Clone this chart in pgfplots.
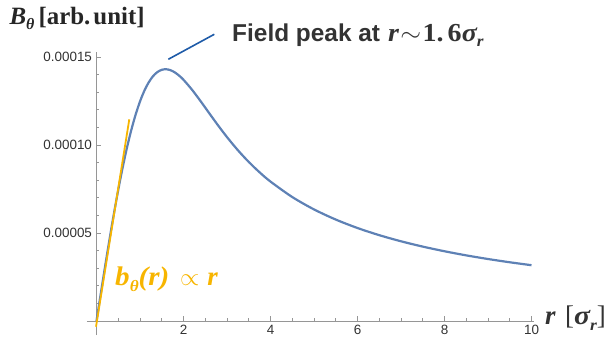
\documentclass[border=0pt]{standalone}
\usepackage[no-math]{fontspec}
\usepackage{pgfplots}
\pgfplotsset{compat=1.18}
\setmainfont{Liberation Sans}
\newfontfamily\tms{Liberation Serif}
\newcommand\bvar[1]{{\tms\bfseries\itshape #1}}
\newcommand\bsub[1]{\raisebox{-0.2em}{\fontsize{16}{16}\selectfont\tms\bfseries\itshape #1}}
\definecolor{curveblue}{RGB}{94,129,181}
\definecolor{annblue}{RGB}{30,91,168}
\definecolor{goldy}{RGB}{247,181,0}
\definecolor{axgray}{RGB}{150,150,150}
\definecolor{txtgray}{RGB}{51,51,51}
\begin{document}
\begin{tikzpicture}
\path[use as bounding box] (-86.93bp,-5.92bp) rectangle (523.07bp,335.08bp);
\begin{axis}[
  at={(0,0)}, anchor=south west,
  scale only axis,
  width=447.18bp, height=283.36bp,
  xmin=-0.22, xmax=10.06,
  ymin=-0.000008, ymax=0.000153,
  axis lines=middle,
  axis line style={-, draw=axgray, line width=0.8bp},
  every inner x axis line/.append style={-},
  every inner y axis line/.append style={-},
  clip=false,
  scaled y ticks=false,
  xtick={2,4,6,8,10},
  ytick={0.00005,0.0001,0.00015},
  yticklabels={0.00005,0.00010,0.00015},
  minor xtick={0.5,1,1.5,2.5,3,3.5,4.5,5,5.5,6.5,7,7.5,8.5,9,9.5},
  minor ytick={0.00001,0.00002,0.00003,0.00004,0.00006,0.00007,0.00008,0.00009,0.00011,0.00012,0.00013,0.00014},
  tick align=inside,
  major tick length=5bp,
  minor tick length=3bp,
  tick style={draw=axgray, line width=0.7bp},
  /pgf/number format/assume math mode=true,
  tick label style={font=\fontsize{13.5}{15}\selectfont, text=txtgray},
  xticklabel style={yshift=-1bp},
  yticklabel style={xshift=-1bp},
]
\addplot[curveblue, line width=2.2bp, smooth] coordinates {
(0,0) (0.1,1.581e-5) (0.2,3.139e-5) (0.3,4.650e-5) (0.4,6.093e-5) (0.5,7.450e-5)
(0.6,8.703e-5) (0.7,9.842e-5) (0.8,1.0851e-4) (0.9,1.1730e-4) (1.0,1.2473e-4)
(1.1,1.3081e-4) (1.2,1.3558e-4) (1.3,1.3910e-4) (1.4,1.4145e-4) (1.5,1.4272e-4)
(1.6,1.4304e-4) (1.7,1.4251e-4) (1.8,1.4126e-4) (1.9,1.3940e-4) (2.0,1.3705e-4)
(2.2,1.3128e-4) (2.4,1.2467e-4) (2.6,1.1777e-4) (2.8,1.1097e-4) (3.0,1.0449e-4)
(3.25,9.704e-5) (3.5,9.037e-5) (3.75,8.446e-5) (4,7.922e-5) (4.5,7.044e-5)
(5,6.340e-5) (5.5,5.764e-5) (6,5.283e-5) (6.5,4.877e-5) (7,4.529e-5)
(7.5,4.227e-5) (8,3.963e-5) (8.5,3.729e-5) (9,3.522e-5) (9.5,3.337e-5) (10,3.170e-5)
};
\addplot[goldy, line width=1.8bp] coordinates {(-0.011,-0.00000324) (0.754,0.0001146)};
\addplot[annblue, line width=1.6bp] coordinates {(1.651,1.487e-4) (2.708,1.629e-4)};
\end{axis}
\node[anchor=base west, inner sep=0, text=black!85] at (-77.6bp,310.1bp)
  {\fontsize{25}{28}\selectfont\bvar{B}\bsub{θ}\,{\tms\bfseries [arb.\hspace{0.12em}unit]}};
\node[anchor=base west, inner sep=0, text=txtgray] at (145.1bp,293.4bp)
  {\fontsize{24.5}{28}\selectfont\bfseries Field peak at \hspace{0.05em}{\fontsize{26}{28}\selectfont\scalebox{1.08}[1]{\bvar{r}\hspace{0.05em}$\sim$\hspace{0.05em}\bvar{\upshape 1.\hspace{0.15em}6}\bvar{σ}\bsub{r}}}};
\node[anchor=base west, inner sep=0, text=goldy] at (28.1bp,49.1bp)
  {\fontsize{27}{30}\selectfont\scalebox{1.08}[1]{\bvar{b}\bsub{θ}\bvar{(r)}}\hspace{0.4em}$\propto$\hspace{0.3em}\bvar{r}};
\node[anchor=base west, inner sep=0, text=txtgray] at (458.1bp,10.1bp)
  {\fontsize{27}{30}\selectfont\bvar{r}\hspace{0.35em}{\tms[}\scalebox{1.1}[1]{\bvar{σ}\bsub{r}}{\tms]}};
\end{tikzpicture}
\end{document}
